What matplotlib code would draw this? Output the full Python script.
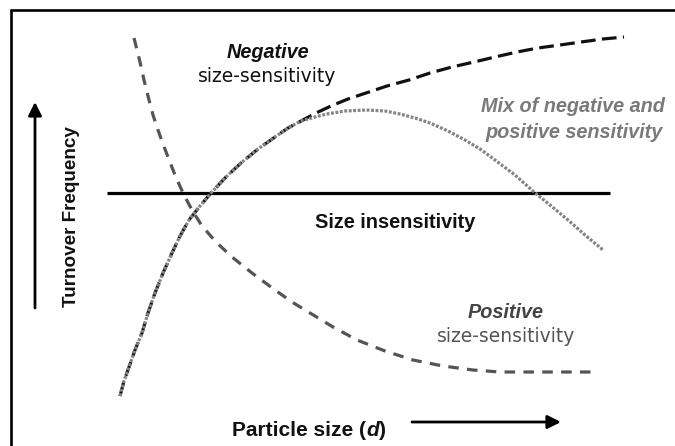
import matplotlib
matplotlib.use("Agg")
import matplotlib.pyplot as plt

# Conceptual curves (arbitrary units: x = particle size, y = turnover frequency)
neg_x = [120, 124, 129, 135, 142, 148, 155, 163, 172, 180, 189, 200, 211, 226, 241, 258, 275, 288,
         301, 316, 331, 348, 366, 387, 409, 430, 452, 474, 495, 517, 538, 560, 581, 603, 624]
neg_y = [50, 65, 79, 96, 113, 133, 153, 173, 193, 210, 226, 240, 253, 269, 283, 297, 309, 318,
         325, 333, 340, 347, 353, 360, 366, 373, 379, 384, 389, 394, 398, 401, 404, 407, 409]

mix_x = [120, 124, 129, 135, 142, 148, 155, 163, 172, 180, 189, 200, 211, 226, 241, 258, 275, 288,
         301, 315, 327, 345, 366, 385, 400, 415, 430, 448, 465, 480, 495, 515, 534, 550, 568, 585, 603]
mix_y = [50, 65, 79, 96, 113, 133, 153, 173, 193, 210, 226, 240, 253, 269, 283, 297, 309, 318,
         325, 329, 332, 335, 336, 335, 332, 328, 323, 315, 306, 297, 286, 271, 254, 241, 226, 211, 196]

pos_x = [134, 137, 140, 144, 149, 153, 158, 163, 168, 175, 183, 192, 202, 216, 232, 252, 275, 292,
         310, 333, 357, 385, 413, 443, 473, 500, 597]
pos_y = [408, 396, 384, 366, 346, 331, 316, 302, 289, 271, 253, 236, 220, 204, 189, 173, 156, 144,
         133, 119, 106, 95, 86, 80, 76, 74, 74]

flat_x = [107, 610]
flat_y = [253, 253]

BOLD = "Liberation Sans"

fig = plt.figure(figsize=(6.75, 4.46), dpi=100)
ax = fig.add_axes([0, 0, 1, 1])
ax.set_xlim(0, 675)
ax.set_ylim(0, 446)
ax.axis("off")

# frame (cropped at right and bottom)
ax.plot([11, 11, 675], [0, 436, 436], color="black", lw=1.9, solid_joinstyle="miter")

ax.plot(flat_x, flat_y, color="black", lw=2.3, solid_capstyle="butt")
ax.plot(pos_x, pos_y, color="#555555", lw=2.3, dashes=(3.3, 2.6))
ax.plot(neg_x, neg_y, color="#111111", lw=2.3, dashes=(4.6, 2.0))
ax.plot(mix_x, mix_y, color="#848484", lw=2.3, dashes=(0.9, 0.5))

fs = 13.5
bfs = 14.3
ax.text(268, 394, "Negative", ha="center", va="center", fontsize=bfs, family=BOLD,
        fontweight="bold", fontstyle="italic", color="#111111")
ax.text(267, 370, "size-sensitivity", ha="center", va="center", fontsize=fs, color="#111111")

ax.text(395, 224, "Size insensitivity", ha="center", va="center", fontsize=bfs, family=BOLD,
        fontweight="bold", color="#111111")

ax.text(573, 339, "Mix of negative and", ha="center", va="center", fontsize=bfs, family=BOLD,
        fontweight="bold", fontstyle="italic", color="#7a7a7a")
ax.text(574, 314, "positive sensitivity", ha="center", va="center", fontsize=bfs, family=BOLD,
        fontweight="bold", fontstyle="italic", color="#7a7a7a")

ax.text(506, 134, "Positive", ha="center", va="center", fontsize=bfs, family=BOLD,
        fontweight="bold", fontstyle="italic", color="#444444")
ax.text(506, 110, "size-sensitivity", ha="center", va="center", fontsize=fs, color="#555555")

# axis labels with arrows
t1 = ax.text(232, 16, "Particle size (", ha="left", va="center", fontsize=15, family=BOLD,
             fontweight="bold", color="#111111")
t2 = ax.annotate("d", xy=(1, 0), xycoords=t1, ha="left", va="bottom", fontsize=15, family=BOLD,
                 fontweight="bold", fontstyle="italic", color="#111111")
ax.annotate(")", xy=(1, 0), xycoords=t2, ha="left", va="bottom", fontsize=15, family=BOLD,
            fontweight="bold", color="#111111")
ax.annotate("", xy=(561, 24), xytext=(412, 24),
            arrowprops=dict(arrowstyle="-|>", lw=2.0, color="black", mutation_scale=20,
                            shrinkA=0, shrinkB=0))

ax.text(71, 229, "Turnover Frequency", ha="center", va="center", rotation=90,
        fontsize=13.6, family=BOLD, fontweight="bold", color="#111111")
ax.annotate("", xy=(35, 344), xytext=(35, 138),
            arrowprops=dict(arrowstyle="-|>", lw=2.0, color="black", mutation_scale=20,
                            shrinkA=0, shrinkB=0))

fig.savefig("out.png", dpi=100)
